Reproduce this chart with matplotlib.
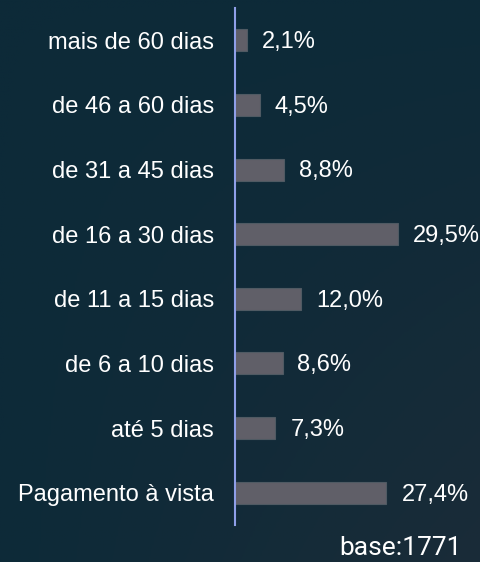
import numpy as np
import matplotlib.pyplot as plt

# data (bottom to top)
categories = ['Pagamento à vista', 'até 5 dias', 'de 6 a 10 dias', 'de 11 a 15 dias',
              'de 16 a 30 dias', 'de 31 a 45 dias', 'de 46 a 60 dias', 'mais de 60 dias']
values = [27.4, 7.3, 8.6, 12.0, 29.5, 8.8, 4.5, 2.1]
value_labels = ['27,4%', '7,3%', '8,6%', '12,0%', '29,5%', '8,8%', '4,5%', '2,1%']
base_text = 'base:1771'

plt.rcParams['font.family'] = ['Liberation Sans', 'DejaVu Sans']

fig = plt.figure(figsize=(4.81, 5.62), dpi=100)

# background with a subtle gradient (lighter towards the lower right)
bg = fig.add_axes([0, 0, 1, 1], zorder=0)
gx, gy = np.meshgrid(np.linspace(0, 1, 200), np.linspace(0, 1, 200))
grad = np.clip(gx * gy, 0, 1)
bg.imshow(grad, cmap=plt.matplotlib.colors.LinearSegmentedColormap.from_list(
    'bg', ['#0d2a38', '#1a2c38']), aspect='auto', extent=[0, 1, 0, 1], origin='upper')
bg.axis('off')

ax = fig.add_axes([0.4886, 0.0658, 0.5114, 0.92], zorder=1)
ax.patch.set_alpha(0)
y = np.arange(len(categories))
ax.barh(y, values, height=0.34, color='#605f68', edgecolor='#4f5a63', linewidth=0.8)
ax.set_xlim(0, 44.5)
ax.set_ylim(-0.5, 7.5)

for yi, v, lab in zip(y, values, value_labels):
    ax.text(v + 2.7, yi - 0.03, lab, color='white', fontsize=17, va='center', ha='left')

ax.set_yticks(y)
ax.set_yticklabels(categories, color='white', fontsize=17)
ax.tick_params(axis='y', length=0, pad=15)
ax.set_xticks([])
for s in ['top', 'right', 'bottom']:
    ax.spines[s].set_visible(False)
ax.spines['left'].set_color('#8f9fe8')
ax.spines['left'].set_linewidth(1.5)

fig.text(0.832, 0.025, base_text, color='white', fontsize=19, ha='center', va='center',
         family=['Roboto', 'DejaVu Sans'])

fig.savefig('out.png', dpi=100)
